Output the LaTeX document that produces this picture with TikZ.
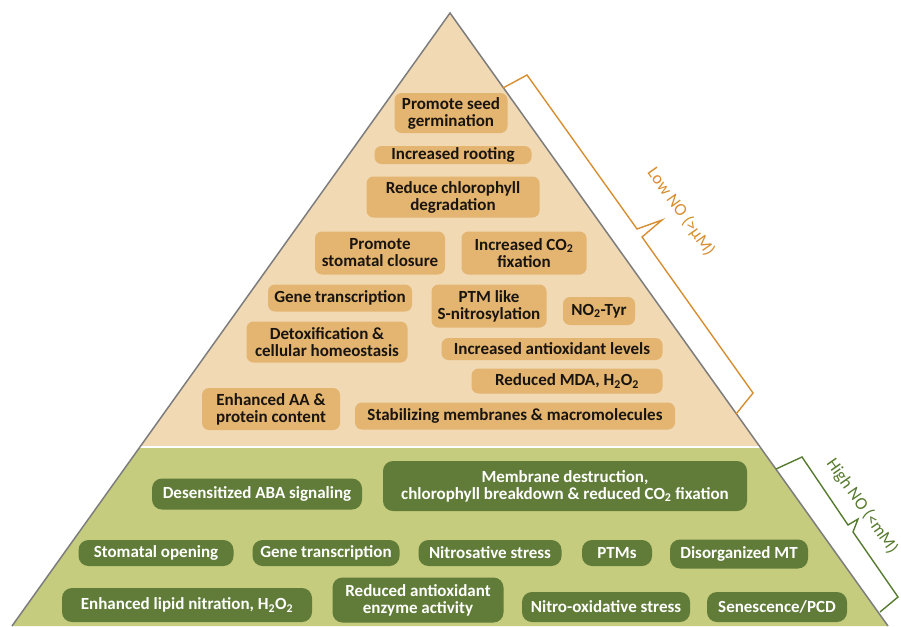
\documentclass[tikz,border=0pt]{standalone}
\usepackage{fontspec}
\setmainfont{Carlito}
\usepackage{xcolor}
\usetikzlibrary{calc}

\definecolor{lowarea}{RGB}{241,217,180}
\definecolor{lowboxfill}{RGB}{227,181,112}
\definecolor{lowtext}{RGB}{25,20,15}
\definecolor{lowline}{RGB}{214,142,48}
\definecolor{higharea}{RGB}{197,204,125}
\definecolor{highboxfill}{RGB}{96,124,56}
\definecolor{highline}{RGB}{86,122,46}
\definecolor{rimgray}{RGB}{125,125,125}

\newcommand{\subtwo}{\textsubscript{2}}

\begin{document}
\begin{tikzpicture}[x=1pt, y=-1pt, font=\fontsize{17}{17}\selectfont\bfseries]

            % Styles of boxes and lines
            \tikzstyle{lowbox} = [rectangle, rounded corners=7pt, fill=lowboxfill, text=lowtext, align=center, inner xsep=3pt, inner ysep=0pt]
            \tikzstyle{highbox} = [rectangle, rounded corners=10pt, fill=highboxfill, text=white, align=center, inner xsep=3pt, inner ysep=0pt]
            \tikzstyle{rimline} = [draw=rimgray, line width=1.5pt, line join=miter]
            \tikzstyle{lowbrace} = [draw=lowline, line width=1.4pt, line join=miter]
            \tikzstyle{highbrace} = [draw=highline, line width=1.4pt, line join=miter]
            \tikzstyle{bracelabel} = [font=\fontsize{17.5}{17.5}\selectfont\mdseries, inner sep=1pt]

            \useasboundingbox (0,0) rectangle (901,626);

            % Pyramid
            \fill [higharea] (450,13) -- (12,626) -- (888,626) -- cycle;
            \fill [lowarea] (450,13) -- (140.6,446) -- (759.4,446) -- cycle;
            \draw [white, line width=2pt] (139,447) -- (761,447);
            \draw [rimline] (12,626) -- (450,13) -- (888,626);

            % Low NO boxes
            \node (seed) [lowbox, minimum width=113pt, minimum height=40pt] at (451,113) {Promote seed\\germination};
            \node (rooting) [lowbox, minimum width=157pt, minimum height=18pt] at (453,155) {Increased rooting};
            \node (chloro) [lowbox, minimum width=173pt, minimum height=41pt] at (453,197) {Reduce chlorophyll\\degradation};
            \node (closure) [lowbox, minimum width=130pt, minimum height=43pt] at (380,253) {Promote\\stomatal closure};
            \node (cofix) [lowbox, minimum width=125pt, minimum height=43pt] at (524,253) {Increased CO\subtwo\\fixation};
            \node (genelow) [lowbox, minimum width=144pt, minimum height=27pt] at (340,298) {Gene transcription};
            \node (ptmlike) [lowbox, minimum width=115pt, minimum height=43pt] at (489,306) {PTM like\\S-nitrosylation};
            \node (notyr) [lowbox, minimum width=72pt, minimum height=28pt] at (599,311) {NO\subtwo-Tyr};
            \node (detox) [lowbox, minimum width=161pt, minimum height=41pt] at (327,342) {Detoxification \&\\cellular homeostasis};
            \node (antiox) [lowbox, minimum width=221pt, minimum height=22pt] at (552,349) {Increased antioxidant levels};
            \node (mda) [lowbox, minimum width=191pt, minimum height=25pt] at (567,381) {Reduced MDA, H\subtwo O\subtwo};
            \node (aaprot) [lowbox, minimum width=138pt, minimum height=42pt] at (271,409) {Enhanced AA \&\\protein content};
            \node (stabil) [lowbox, minimum width=320pt, minimum height=27pt] at (515,416) {Stabilizing membranes \& macromolecules};

            % High NO boxes
            \node (aba) [highbox, minimum width=210pt, minimum height=31pt] at (257,494) {Desensitized ABA signaling};
            \node (membrane) [highbox, minimum width=364pt, minimum height=50pt] at (565,486) {Membrane destruction,\\chlorophyll breakdown \& reduced CO\subtwo\ fixation};
            \node (opening) [highbox, minimum width=155pt, minimum height=26pt] at (156,553) {Stomatal opening};
            \node (genehigh) [highbox, minimum width=147pt, minimum height=26pt] at (326,553) {Gene transcription};
            \node (nitrosative) [highbox, minimum width=143pt, minimum height=26pt] at (490,553) {Nitrosative stress};
            \node (ptms) [highbox, minimum width=70pt, minimum height=26pt] at (617,553) {PTMs};
            \node (disorg) [highbox, minimum width=138pt, minimum height=29pt] at (739,554) {Disorganized MT};
            \node (lipid) [highbox, minimum width=250pt, minimum height=34pt] at (187,605) {Enhanced lipid nitration, H\subtwo O\subtwo};
            \node (enzyme) [highbox, minimum width=171pt, minimum height=45pt] at (418,600) {Reduced antioxidant\\enzyme activity};
            \node (nitroox) [highbox, minimum width=168pt, minimum height=30pt] at (606,607) {Nitro-oxidative stress};
            \node (senescence) [highbox, minimum width=140pt, minimum height=30pt] at (777,607) {Senescence/PCD};

            % Braces along the side
            \draw [lowbrace] (503,88) -- (527,75) -- (637,229) -- (662,220) -- (642,237) -- (753,393) -- (736,414);
            \draw [highbrace] (776,469) -- (802,457) -- (848,525) -- (858,519) -- (853,532) -- (898,597) -- (880,612);
            \node (lowlabel) [bracelabel, text=lowline, rotate=-54.6] at (681,212) {Low NO (>μM)};
            \node (highlabel) [bracelabel, text=highline, rotate=-55] at (862,506) {High NO (<mM)};

\end{tikzpicture}
\end{document}
